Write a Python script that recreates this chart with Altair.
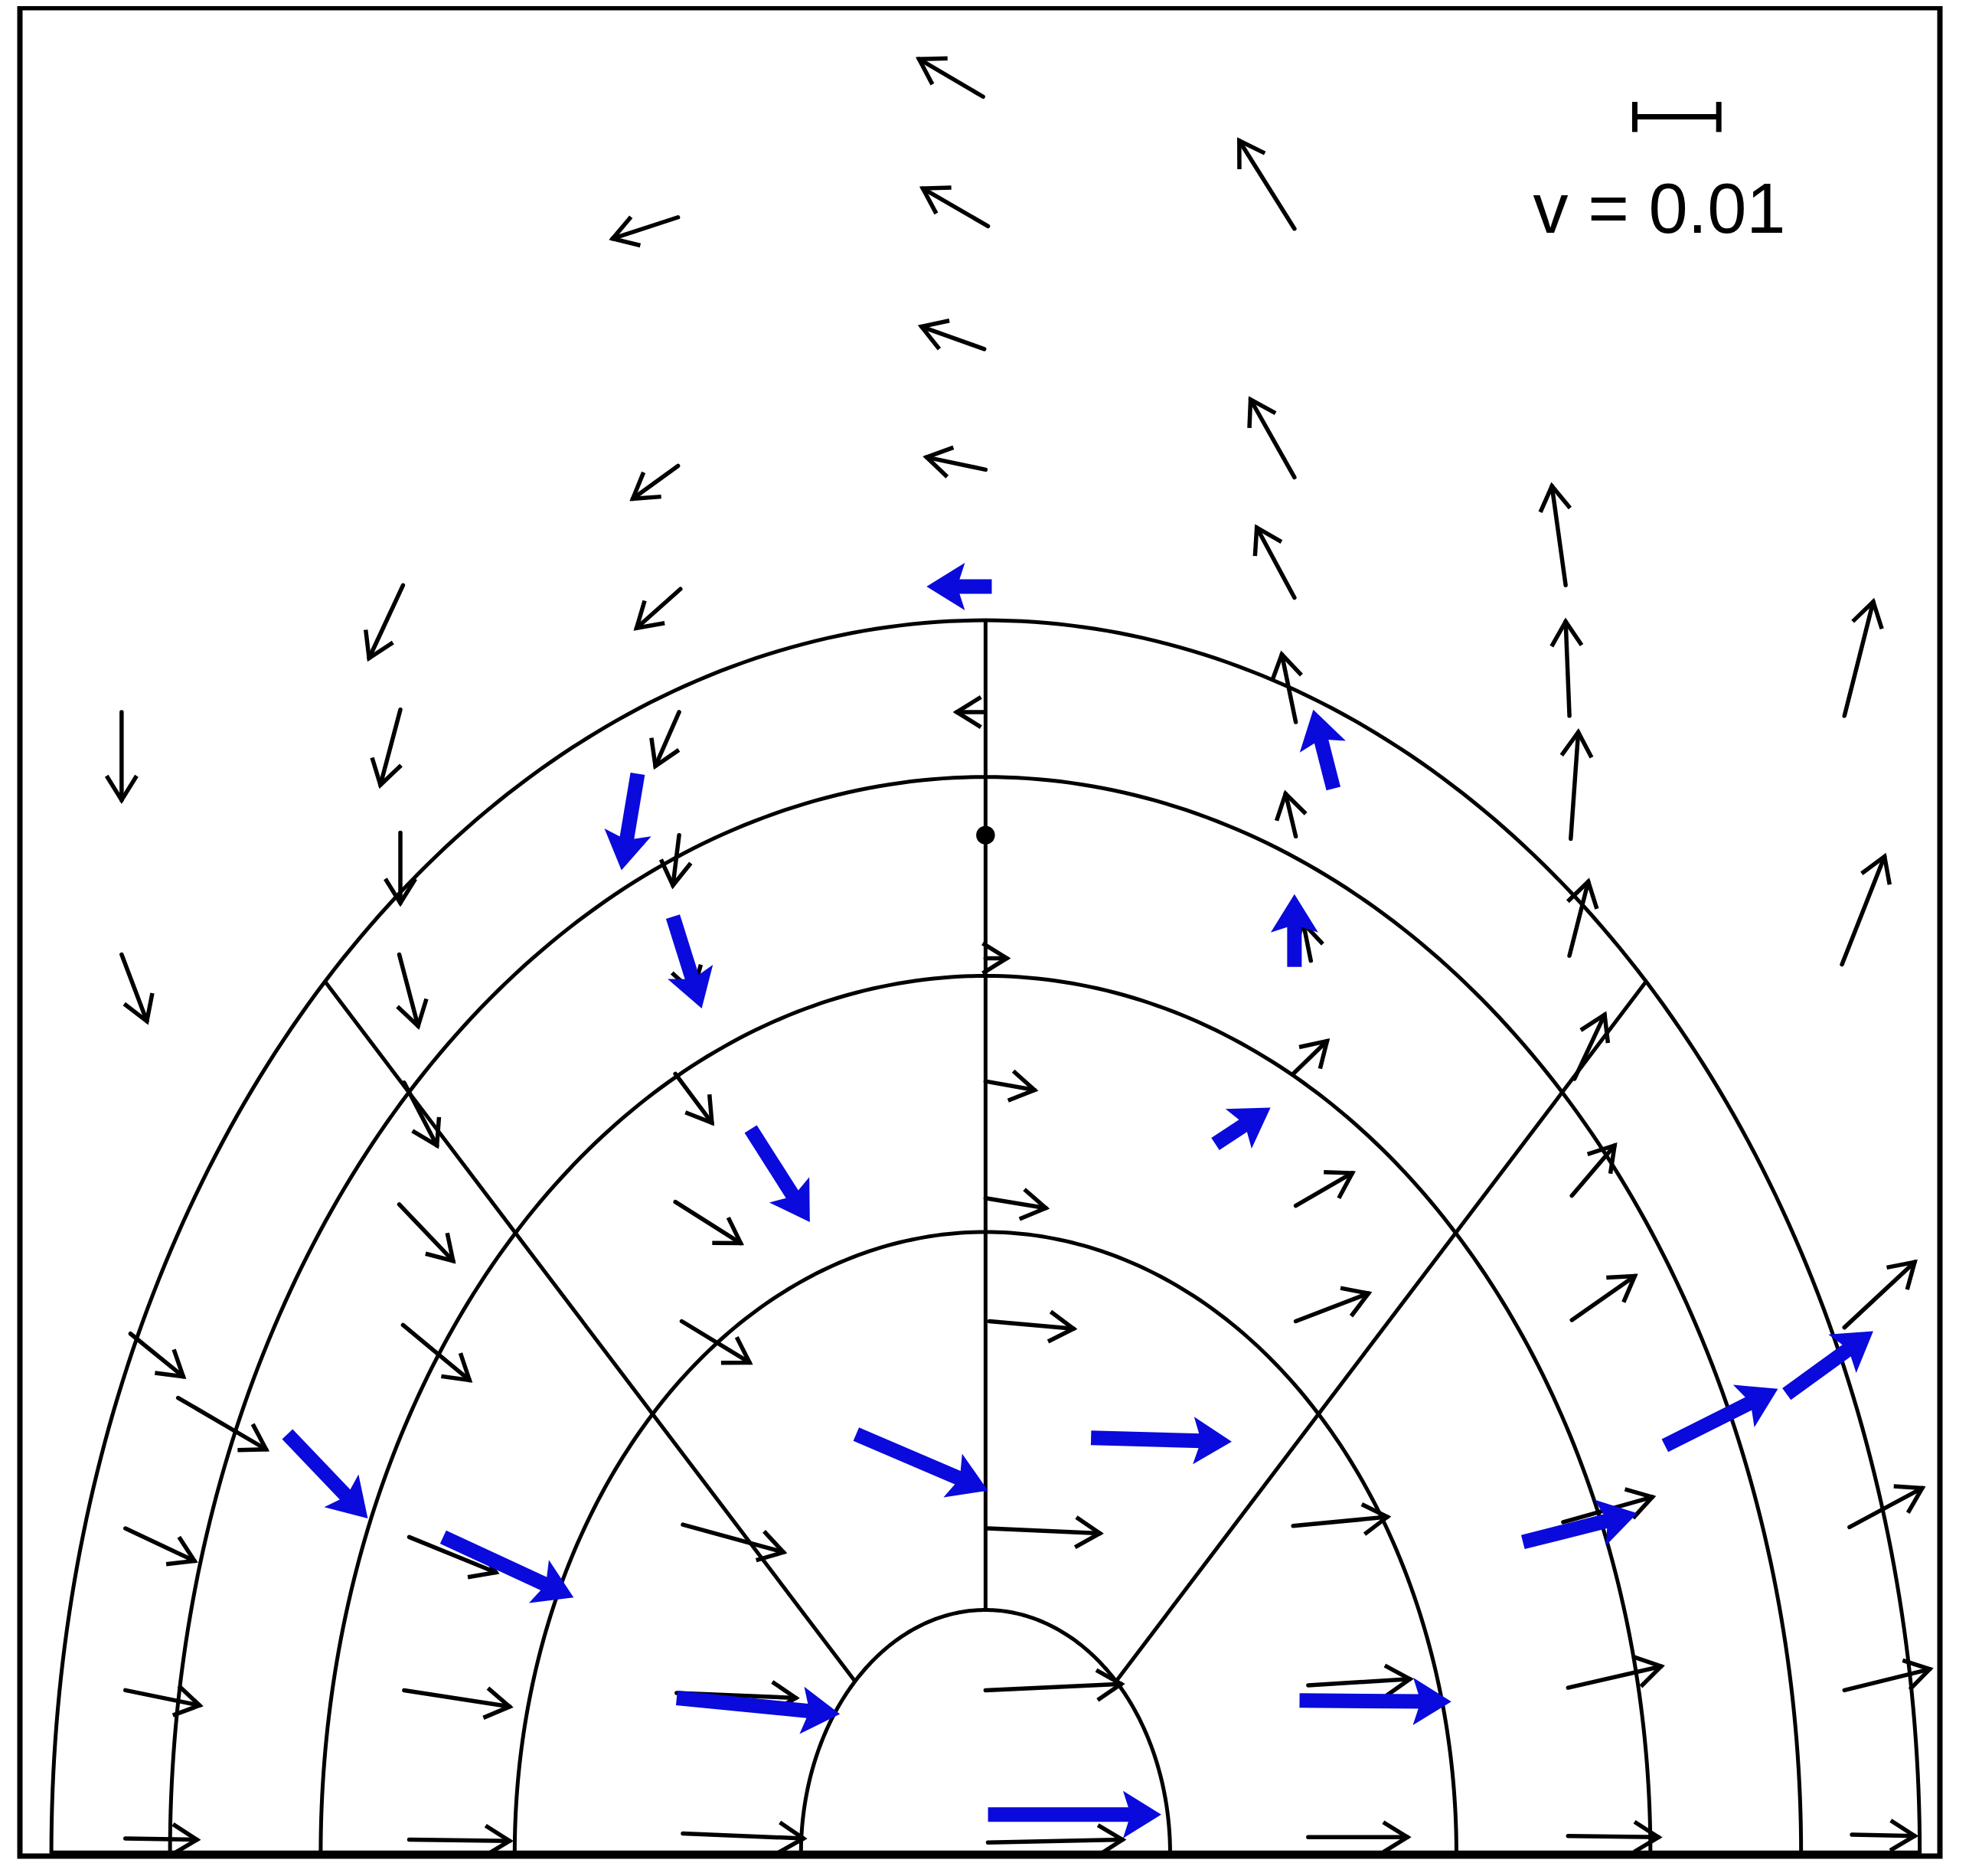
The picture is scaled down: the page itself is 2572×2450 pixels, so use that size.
import math
import numpy as np
import pandas as pd
import altair as alt

# ---------------- plot frame (data units: radius units) ----------------
X_MIN, X_MAX = -5.127, 5.067
Y_MIN, Y_MAX = -0.01, 7.424
W, H = 2508, 2414
SX = W / (X_MAX - X_MIN)
SY = H / (Y_MAX - Y_MIN)

# ---------------- geometry ----------------
arc_radii = [0.98, 2.5, 3.53, 4.33, 4.96]
radial_angles = [45, 90, 135]
r_inner, r_outer = 0.98, 4.96

# ---------------- black arrows (tail x0,y0 -> head x1,y1) ----------------
bx0 = [-4.587, -4.587, -4.54, -4.287, -4.567, -4.567, -4.567,
       -3.093, -3.107, -3.107, -3.113, -3.087, -3.113, -3.093, -3.06, -3.087, -3.06,
       -1.633, -1.633, -1.62, -1.627, -1.627, -1.633, -1.647, -1.647, -1.613, -1.607, -1.64, -1.607,
       -0.013, 0.013, -0.007, 0.0, -0.013, 0.0, 0.0, 0.0, 0.02, 0.013, 0.0, 0.013,
       1.64, 1.64, 1.64, 1.647, 1.647, 1.727, 1.633, 1.647, 1.647, 1.633, 1.713, 1.713,
       3.08, 3.1, 3.107, 3.1, 3.127, 3.113, 3.113, 3.067, 3.093, 3.093,
       4.56, 4.547, 4.56, 4.587, 4.56, 4.6]
by0 = [4.591, 3.616, 2.091, 1.833, 1.308, 0.657, 0.061,
       5.101, 4.601, 4.106, 3.616, 3.101, 2.611, 2.126, 1.273, 0.657, 0.056,
       6.581, 5.581, 5.086, 4.591, 4.096, 3.677, 3.136, 2.621, 2.141, 1.323, 0.646, 0.081,
       7.066, 6.545, 6.051, 5.566, 4.591, 3.601, 3.106, 2.636, 2.141, 1.308, 0.657, 0.045,
       6.535, 5.535, 5.051, 4.551, 4.091, 3.591, 3.136, 2.606, 2.141, 1.318, 0.677, 0.066,
       5.101, 4.576, 4.081, 3.611, 3.116, 2.646, 2.146, 1.333, 0.667, 0.071,
       4.576, 3.576, 2.116, 1.313, 0.657, 0.076]
bx1 = [-4.587, -4.453, -4.26, -3.82, -4.2, -4.173, -4.187,
       -3.273, -3.213, -3.107, -3.013, -2.913, -2.827, -2.74, -2.6, -2.527, -2.527,
       -1.98, -1.873, -1.853, -1.753, -1.66, -1.553, -1.453, -1.3, -1.253, -1.073, -1.007, -0.967,
       -0.353, -0.333, -0.34, -0.313, -0.153, 0.113, 0.26, 0.32, 0.467, 0.607, 0.72, 0.727,
       1.347, 1.407, 1.44, 1.573, 1.593, 1.687, 1.813, 1.947, 2.033, 2.133, 2.253, 2.24,
       3.007, 3.08, 3.147, 3.2, 3.287, 3.34, 3.447, 3.54, 3.587, 3.573,
       4.713, 4.773, 4.933, 4.973, 5.013, 4.933]
by1 = [4.237, 3.348, 1.919, 1.626, 1.177, 0.596, 0.056,
       4.808, 4.298, 3.823, 3.328, 2.848, 2.384, 1.904, 1.131, 0.591, 0.051,
       6.495, 5.449, 4.929, 4.374, 3.894, 3.465, 2.939, 2.455, 1.975, 1.212, 0.626, 0.061,
       7.217, 6.697, 6.141, 5.616, 4.591, 3.601, 3.071, 2.596, 2.111, 1.288, 0.682, 0.056,
       6.889, 5.848, 5.333, 4.823, 4.263, 3.742, 3.268, 2.737, 2.253, 1.354, 0.702, 0.066,
       5.5, 4.955, 4.51, 3.909, 3.374, 2.848, 2.323, 1.434, 0.753, 0.066,
       5.035, 4.01, 2.379, 1.47, 0.742, 0.071]

# ---------------- blue arrows ----------------
ux0 = [0.033, -1.847, -1.66, -1.247, -3.707, -2.88, -0.687, -1.64, 0.013,
       0.56, 1.847, 1.64, 1.22, 1.667, 2.853, 3.607, 4.253]
uy0 = [5.096, 4.343, 3.768, 2.914, 1.687, 1.273, 1.687, 0.626, 0.157,
       1.672, 4.283, 3.566, 2.854, 0.616, 1.253, 1.641, 1.848]
ux1 = [-0.313, -1.933, -1.507, -0.933, -3.28, -2.187, 0.013, -0.773, 0.933,
       1.307, 1.74, 1.64, 1.513, 2.473, 3.46, 4.207, 4.713]
uy1 = [5.096, 3.955, 3.399, 2.54, 1.348, 1.03, 1.46, 0.561, 0.157,
       1.657, 4.601, 3.859, 3.0, 0.611, 1.369, 1.869, 2.101]

# stagnation point on the symmetry axis
dot_x = [0.0]
dot_y = [4.096]

# scale bar legend
bar_x0, bar_x1, bar_y = 3.447, 3.893, 6.985
cap_y0, cap_y1 = 6.924, 7.045
legend_text = "v = 0.01"
legend_x, legend_y = 2.907, 6.52

BLUE = "#0a0adc"

# ---------------- tables ----------------
def screen_angle(dx, dy):
    return math.degrees(math.atan2(-dy * SY, dx * SX)) % 360

black = pd.DataFrame({"x0": bx0, "y0": by0, "x1": bx1, "y1": by1})
black["ang"] = [screen_angle(a, b) for a, b in zip(black.x1 - black.x0, black.y1 - black.y0)]

blue = pd.DataFrame({"x0": ux0, "y0": uy0, "x1": ux1, "y1": uy1})
blue["ang"] = [screen_angle(a, b) for a, b in zip(blue.x1 - blue.x0, blue.y1 - blue.y0)]
BACK = 38.0  # px: shaft stops under the head
xe, ye = [], []
for a, b, c, d in zip(ux0, uy0, ux1, uy1):
    L = math.hypot((c - a) * SX, (d - b) * SY)
    f = max(0.0, 1 - BACK / L)
    xe.append(a + (c - a) * f)
    ye.append(b + (d - b) * f)
blue["xe"] = xe
blue["ye"] = ye

arc_rows = []
for r in arc_radii:
    for i, t in enumerate(np.linspace(0, math.pi, 241)):
        arc_rows.append({"r": r, "i": i, "x": r * math.cos(t), "y": r * math.sin(t)})
arcs = pd.DataFrame(arc_rows)

radials = pd.DataFrame({
    "x0": [r_inner * math.cos(math.radians(a)) for a in radial_angles],
    "y0": [r_inner * math.sin(math.radians(a)) for a in radial_angles],
    "x1": [r_outer * math.cos(math.radians(a)) for a in radial_angles],
    "y1": [r_outer * math.sin(math.radians(a)) for a in radial_angles],
})

base_line = pd.DataFrame({"x0": [-r_outer], "x1": [r_outer], "y0": [0.0]})
bar = pd.DataFrame({"x0": [bar_x0, bar_x0, bar_x1], "x1": [bar_x1, bar_x0, bar_x1],
                    "y0": [bar_y, cap_y0, cap_y0], "y1": [bar_y, cap_y1, cap_y1]})
dots = pd.DataFrame({"x": dot_x, "y": dot_y})
label = pd.DataFrame({"x": [legend_x], "y": [legend_y], "t": [legend_text]})

xs = alt.Scale(domain=[X_MIN, X_MAX], nice=False, zero=False)
ys = alt.Scale(domain=[Y_MIN, Y_MAX], nice=False, zero=False)

def X(f):
    return alt.X(f, type="quantitative", scale=xs, axis=None)

def Y(f):
    return alt.Y(f, type="quantitative", scale=ys, axis=None)

LW = 5.5
ARC_W = 5
V_HEAD = "M-1,-0.62L0,0L-1,0.62"
B_HEAD = "M0,0L-1,-0.62L-0.8,0L-1,0.62Z"

arc_layer = alt.Chart(arcs).mark_line(color="black", strokeWidth=ARC_W).encode(
    x=X("x"), y=Y("y"), detail="r:N", order="i:Q")
radial_layer = alt.Chart(radials).mark_rule(color="black", strokeWidth=ARC_W).encode(
    x=X("x0"), y=Y("y0"), x2="x1", y2="y1")
base_layer = alt.Chart(base_line).mark_rule(color="black", strokeWidth=8).encode(
    x=X("x0"), x2="x1", y=Y("y0"))
black_shaft = alt.Chart(black).mark_rule(color="black", strokeWidth=LW, strokeCap="round").encode(
    x=X("x0"), y=Y("y0"), x2="x1", y2="y1")
black_head = alt.Chart(black).mark_point(shape=V_HEAD, filled=False, color="black", size=4000,
                                         strokeWidth=LW, opacity=1, strokeJoin="miter").encode(
    x=X("x1"), y=Y("y1"), angle=alt.Angle("ang:Q", scale=None))
dot_layer = alt.Chart(dots).mark_point(filled=True, color="black", size=600, opacity=1).encode(
    x=X("x"), y=Y("y"))
blue_shaft = alt.Chart(blue).mark_rule(color=BLUE, strokeWidth=19, strokeCap="butt").encode(
    x=X("x0"), y=Y("y0"), x2="xe", y2="ye")
blue_head = alt.Chart(blue).mark_point(shape=B_HEAD, filled=True, color=BLUE, size=10000,
                                       opacity=1, strokeWidth=0).encode(
    x=X("x1"), y=Y("y1"), angle=alt.Angle("ang:Q", scale=None))
bar_layer = alt.Chart(bar).mark_rule(color="black", strokeWidth=7).encode(
    x=X("x0"), y=Y("y0"), x2="x1", y2="y1")
text_layer = alt.Chart(label).mark_text(font="Liberation Sans", fontSize=92, align="left",
                                        baseline="alphabetic", color="black").encode(
    x=X("x"), y=Y("y"), text="t:N")

chart = alt.layer(
    arc_layer, radial_layer, base_layer, black_shaft, black_head, dot_layer,
    blue_shaft, blue_head, bar_layer, text_layer
).properties(
    width=W, height=H,
    padding={"left": 18, "top": 2, "right": 5, "bottom": 5},
).configure_view(stroke="black", strokeWidth=7)

chart.save("out.html", embed_options={"renderer": "svg", "actions": False})
